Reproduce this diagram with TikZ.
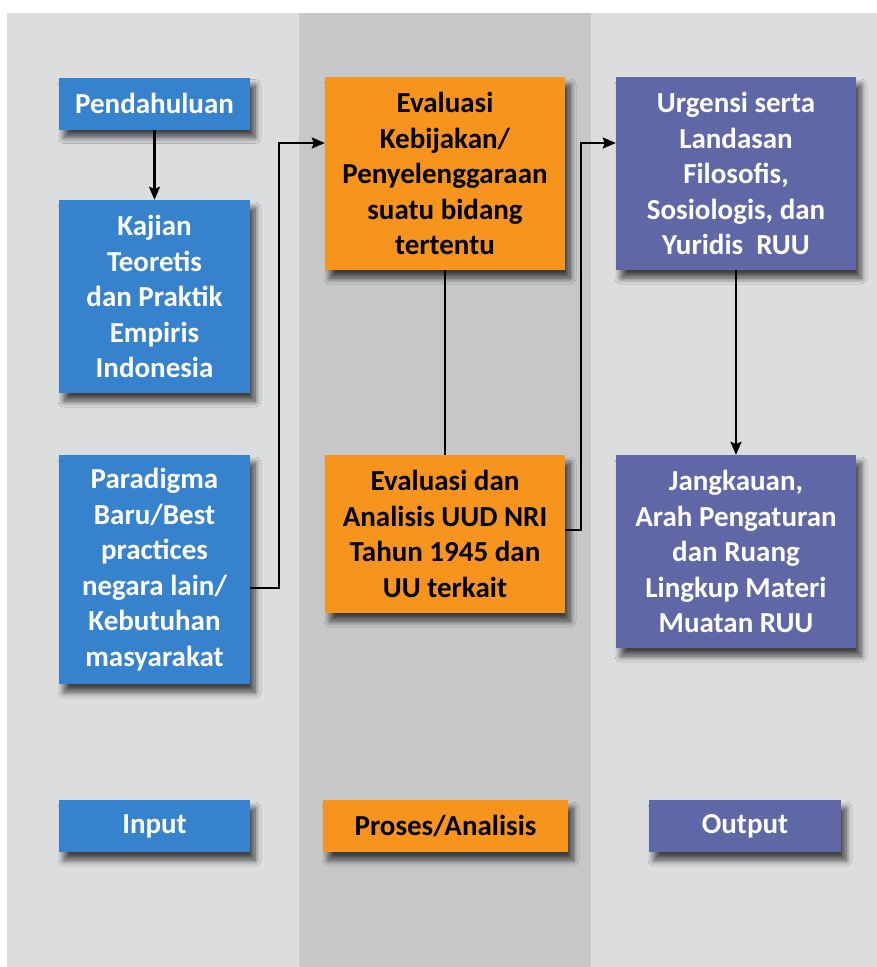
\documentclass[tikz,border=0pt]{standalone}
\usepackage{fontspec}
\setmainfont{Carlito}
\usetikzlibrary{shadows.blur,arrows.meta,calc}
\definecolor{bgl}{HTML}{DCDDDF}
\definecolor{bgm}{HTML}{C6C7C9}
\definecolor{cblue}{HTML}{3782CD}
\definecolor{corange}{HTML}{F7941E}
\definecolor{cpurple}{HTML}{6067A7}
\tikzset{
  basebox/.style={rectangle, inner sep=0pt, align=center,
    font=\bfseries\fontsize{29}{35.5}\selectfont,
    blur shadow={shadow xshift=5pt, shadow yshift=-8pt, shadow blur radius=6pt, shadow blur steps=10, shadow opacity=70}},
  bluebox/.style={basebox, fill=cblue, text=white},
  orangebox/.style={basebox, fill=corange, text=black},
  purplebox/.style={basebox, fill=cpurple, text=white},
  conn/.style={line width=2.2pt, draw=black},
  arr/.style={conn, -{Stealth[length=13pt,width=11pt,inset=2pt]}}
}
\begin{document}
\begin{tikzpicture}[x=1pt,y=-1pt]
\useasboundingbox (0,0) rectangle (877,967);
\fill[white] (0,0) rectangle (877,967);
\fill[bgl] (7,13) rectangle (877,967);
\fill[bgm] (299,13) rectangle (591,967);

% Input column
\node[bluebox, minimum width=191pt, minimum height=52pt] (pend) at (154.5,103.5) {Pendahuluan};
\node[bluebox, minimum width=191pt, minimum height=193pt] (kaj) at (154.5,296.5) {Kajian\\Teoretis\\dan Praktik\\Empiris\\Indonesia};
\node[bluebox, minimum width=191pt, minimum height=229pt] (para) at (154.5,569.5) {Paradigma\\Baru/Best\\practices\\negara lain/\\Kebutuhan\\masyarakat};

% Process column
\node[orangebox, minimum width=240pt, minimum height=193pt] (evk) at (445,173.5) {Evaluasi\\Kebijakan/\\Penyelenggaraan\\suatu bidang\\tertentu};
\node[orangebox, minimum width=240pt, minimum height=158pt] (eva) at (445,534) {Evaluasi dan\\Analisis UUD NRI\\Tahun 1945 dan\\UU terkait};

% Output column
\node[purplebox, minimum width=240pt, minimum height=193pt] (urg) at (736,173.5) {Urgensi serta\\Landasan\\Filosofis,\\Sosiologis, dan\\Yuridis\ \ RUU};
\node[purplebox, minimum width=240pt, minimum height=193pt] (jan) at (736,551.5) {Jangkauan,\\Arah Pengaturan\\dan Ruang\\Lingkup Materi\\Muatan RUU};

% Legend
\node[bluebox, minimum width=191pt, minimum height=52pt] (lin) at (154.5,826) {Input};
\node[orangebox, minimum width=245pt, minimum height=52pt] (lpro) at (445.5,826) {Proses/Analisis};
\node[purplebox, minimum width=192pt, minimum height=52pt] (lout) at (745,826) {Output};

% Connectors
\draw[arr] (pend) -- (kaj);
\coordinate (c1) at (279,588);
\coordinate (c2) at (581,530);
\draw[arr] ([yshift=-18.5pt]para.east) -- (c1) -- (c1 |- 0,143) -- ([yshift=30.5pt]evk.west);
\draw[conn] (evk) -- (eva);
\draw[arr] ([yshift=4pt]eva.east) -- (c2) -- (c2 |- 0,143) -- ([yshift=30.5pt]urg.west);
\draw[arr] (urg) -- (jan);
\end{tikzpicture}
\end{document}
